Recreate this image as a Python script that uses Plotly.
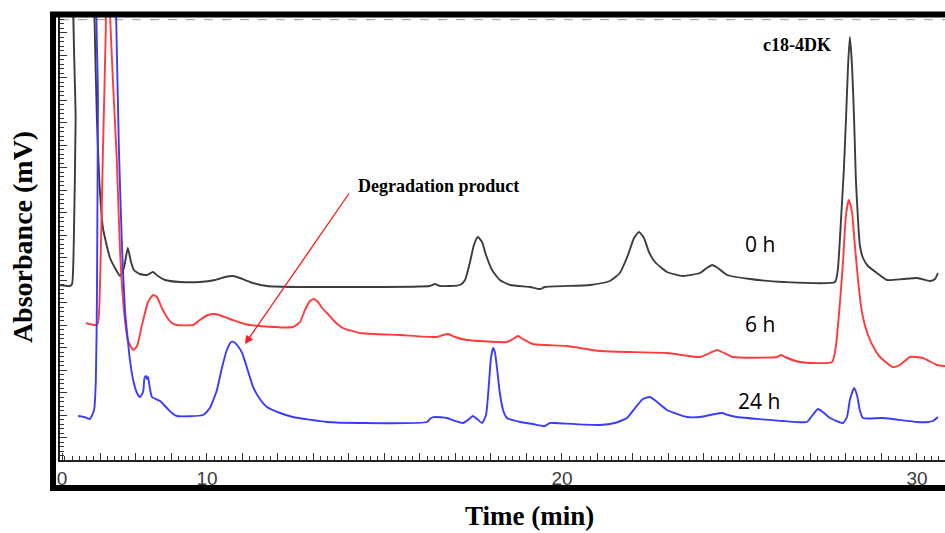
import plotly.graph_objects as go

# ---------------- data (time in min, absorbance in arbitrary mV) ----------------
t_0h = [5.86, 6.14, 6.20, 6.25, 6.30, 6.32, 6.80, 6.83, 6.90, 6.97, 7.07, 7.27, 7.44, 7.55, 7.66, 7.77, 7.86, 7.94,
        8.11, 8.31, 8.48, 8.62, 8.82, 9.24, 9.80, 10.23, 10.51, 10.73, 10.93, 11.21, 11.69, 12.62, 14.31, 16.28,
        16.42, 16.56, 17.13, 17.27, 17.41, 17.52, 17.63, 17.75, 17.86, 18.03, 18.25, 18.54, 19.10, 19.38, 19.52,
        20.79, 21.35, 21.63, 21.86, 22.03, 22.17, 22.31, 22.45, 22.62, 22.96, 23.41, 23.89, 24.08, 24.23, 24.39,
        24.65, 25.30, 26.23, 27.69, 27.77, 27.86, 27.94, 28.00, 28.06, 28.11, 28.17, 28.23, 28.28, 28.34, 28.39,
        28.48, 28.62, 28.87, 29.15, 29.61, 30.00, 30.37, 30.51, 30.59]
a_0h = [175, 174, 176, 220, 340, 520, 520, 445, 340, 278, 232, 202, 190, 184, 192, 212, 198, 190,
        186, 185, 188, 184, 180, 178, 178, 180, 183, 184, 182, 178, 174, 173, 173, 174,
        176, 174, 175, 180, 198, 215, 223, 218, 205, 190, 180, 175, 173, 171, 173,
        175, 179, 187, 205, 222, 228, 222, 208, 198, 188, 184, 187, 192, 195, 192,
        185, 181, 178, 178, 190, 240, 290, 340, 395, 423, 395, 340, 280, 240, 215,
        202, 194, 187, 180, 181, 182, 179, 181, 187]

t_6h = [6.59, 6.85, 6.93, 6.99, 7.07, 7.15, 7.18, 7.21, 7.27, 7.35, 7.46, 7.55, 7.66, 7.77, 7.92, 8.03, 8.17, 8.34,
        8.48, 8.59, 8.73, 8.87, 9.01, 9.15, 9.61, 9.80, 10.03, 10.23, 10.42, 10.73, 11.07, 11.49, 12.42, 12.62,
        12.76, 12.90, 13.01, 13.13, 13.24, 13.38, 13.61, 13.83, 14.31, 15.44, 16.48, 16.65, 16.79, 16.99, 17.32,
        18.45, 18.62, 18.76, 18.90, 19.18, 20.14, 21.07, 22.96, 23.89, 24.23, 24.37, 24.51, 24.82, 26.06, 26.17,
        26.28, 26.70, 27.61, 27.72, 27.83, 27.92, 28.00, 28.08, 28.17, 28.25, 28.34, 28.45, 28.62, 28.82, 28.96,
        29.32, 29.52, 29.80, 30.17, 30.56, 30.79]
a_6h = [137, 135, 137, 180, 310, 430, 520, 520, 445, 380, 300, 210, 150, 120, 110, 114, 135, 158,
        165, 163, 152, 143, 137, 135, 135, 140, 145, 146, 144, 140, 136, 134, 133, 138,
        150, 159, 161, 158, 152, 147, 138, 132, 127, 125, 123, 125, 126, 123, 120,
        118, 121, 124, 121, 116, 114, 109, 107, 103, 108, 110, 108, 103, 103, 105,
        103, 98, 98, 115, 157, 200, 245, 260, 248, 215, 180, 148, 125, 110, 103,
        93, 95, 103, 102, 95, 94]

t_24h = [6.37, 6.54, 6.70, 6.82, 6.87, 6.90, 6.93, 6.96, 7.38, 7.44, 7.52, 7.61, 7.69, 7.75, 7.83, 7.92, 8.03, 8.11,
         8.20, 8.24, 8.28, 8.31, 8.34, 8.39, 8.45, 8.56, 8.68, 8.79, 8.87, 9.01, 9.15, 9.89, 10.08, 10.28, 10.42,
         10.56, 10.68, 10.76, 10.87, 10.99, 11.13, 11.30, 11.49, 11.69, 12.06, 12.42, 13.38, 14.31, 16.20, 16.31,
         16.42, 16.76, 16.99, 17.21, 17.35, 17.49, 17.61, 17.75, 17.86, 17.94, 18.00, 18.06, 18.11, 18.17, 18.25,
         18.34, 18.45, 18.82, 19.18, 19.52, 19.66, 19.80, 21.07, 21.49, 21.83, 22.06, 22.28, 22.48, 22.68, 22.96,
         23.52, 23.89, 24.31, 24.51, 24.68, 24.93, 26.23, 26.90, 27.04, 27.21, 27.35, 27.55, 27.92, 28.03, 28.11,
         28.23, 28.31, 28.39, 28.48, 29.04, 30.00, 30.31, 30.45, 30.59]
a_24h = [44, 43, 41, 50, 80, 160, 360, 520, 520, 445, 310, 210, 150, 127, 100, 80, 67, 63,
         68, 82, 84, 81, 83, 72, 63, 61, 59, 55, 52, 47, 44, 45, 52, 70, 92,
         110, 118, 118, 114, 107, 92, 73, 61, 53, 47, 43, 38, 37, 38, 42,
         43, 42, 39, 37, 40, 44, 41, 37, 45, 75, 102, 112, 108, 92, 67,
         50, 42, 38, 36, 34, 37, 37, 35, 37, 42, 52, 61, 63, 58, 50,
         43, 43, 46, 47, 45, 43, 39, 38, 44, 51, 48, 42, 37, 43, 60,
         72, 65, 50, 42, 42, 38, 38, 39, 43]

x_tick_vals = [5.92] + list(range(7, 31))
x_tick_text = ["0"] + [str(v) if v in (10, 20, 30) else "" for v in range(7, 31)]

series = [("0 h", t_0h, a_0h, "#3c3c3c"),
          ("6 h", t_6h, a_6h, "#ff3b3b"),
          ("24 h", t_24h, a_24h, "#3b3bff")]

# ---------------- figure ----------------
fig = go.Figure()
for name, tx, ay, col in series:
    fig.add_trace(go.Scatter(x=tx, y=ay, mode="lines", name=name,
                             line=dict(color=col, width=1.9, shape="spline", smoothing=0.5),
                             showlegend=False))

serif = "Liberation Serif, Times New Roman, serif"

fig.update_layout(
    width=945, height=533,
    margin=dict(l=60, r=0, t=17, b=73),
    paper_bgcolor="white", plot_bgcolor="white",
    xaxis=dict(range=[5.86, 30.79], showgrid=False, zeroline=False,
               showline=True, linecolor="#222", linewidth=1.5,
               tickmode="array", tickvals=x_tick_vals, ticktext=x_tick_text,
               ticks="inside", ticklen=7, tickwidth=1, tickcolor="#333",
               tickfont=dict(family="Liberation Sans, Arial, sans-serif", size=19, color="#3a3a3a"),
               minor=dict(dtick=0.2, tick0=0, ticks="inside", ticklen=4, tickcolor="#333", showgrid=False)),
    yaxis=dict(range=[0, 443], showgrid=False, zeroline=False,
               showline=True, linecolor="#222", linewidth=1.5,
               showticklabels=False, dtick=22.5, tick0=0,
               ticks="inside", ticklen=7, tickwidth=1, tickcolor="#333",
               minor=dict(dtick=4.5, tick0=0, ticks="inside", ticklen=4, tickcolor="#333", showgrid=False)),
)

# frame (thick black border around the chart, open on the right)
frame_lines = [
    dict(x0=-0.0079, x1=-0.0079, y0=-0.070, y1=1.0113),
    dict(x0=-0.0113, x1=1.0, y0=1.0056, y1=1.0056),
    dict(x0=-0.0113, x1=1.0, y0=-0.0632, y1=-0.0632),
]
for fl in frame_lines:
    fig.add_shape(type="line", xref="paper", yref="paper", line=dict(color="black", width=6), **fl)
fig.add_shape(type="line", xref="paper", yref="paper", x0=0, x1=1, y0=0.994, y1=0.994,
              line=dict(color="#9a9a9a", width=1, dash="dash"), layer="below")

# annotations
anc = dict(xanchor="center", yanchor="middle", showarrow=False)
fig.add_annotation(x=26.62, y=415, text="<b>c18-4DK</b>",
                   font=dict(family=serif, size=18, color="black"), **anc)
fig.add_annotation(x=16.51, y=274, text="<b>Degradation product</b>",
                   font=dict(family=serif, size=18, color="black"), **anc)
fig.add_annotation(x=11.07, y=116, ax=14.03, ay=268, axref="x", ayref="y", xref="x", yref="y",
                   text="", showarrow=True, arrowhead=2, arrowsize=1.3, arrowwidth=1.3, arrowcolor="#ff1a1a")
for label, lx, ly in [("0 h", 25.58, 216), ("6 h", 25.58, 136), ("24 h", 25.55, 59)]:
    fig.add_annotation(x=lx, y=ly, text=label,
                       font=dict(family="Open Sans, Noto Sans, sans-serif", size=21, color="black"), **anc)

fig.add_annotation(xref="paper", yref="paper", x=0.531, y=-0.126, text="<b>Time (min)</b>",
                   font=dict(family=serif, size=27, color="black"), **anc)
fig.add_annotation(xref="paper", yref="paper", x=-0.043, y=0.503, text="<b>Absorbance (mV)</b>",
                   textangle=-90, font=dict(family=serif, size=28, color="black"), **anc)

fig.write_html("out.html", config={"displayModeBar": False},
               post_script="document.body.style.margin='0';document.body.style.overflow='hidden';")
